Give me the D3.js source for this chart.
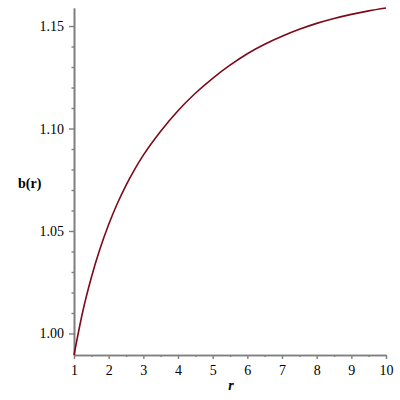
<!DOCTYPE html>
<html>
<head>
<meta charset="utf-8">
<script src="https://cdn.jsdelivr.net/npm/d3@7"></script>
<style>
  body { margin: 0; background: #fff; }
  svg { display: block; }
  .axis path, .axis line { stroke: #7f7f7f; }
</style>
</head>
<body>
<svg id="chart" width="400" height="400"></svg>
<script>
// values
var rValues = [1, 1.25, 1.5, 1.75, 2, 2.25, 2.5, 2.75, 3, 3.5, 4, 4.5, 5, 5.5, 6, 6.5, 7, 7.5, 8, 8.5, 9, 9.5, 10];
var bValues = [0.9895, 1.0105, 1.0273, 1.0413, 1.0532, 1.0634, 1.0723, 1.0801, 1.087,
               1.0987, 1.1087, 1.1172, 1.1245, 1.1309, 1.1365, 1.1411, 1.1450, 1.1484,
               1.1513, 1.1537, 1.1557, 1.1574, 1.1588];
var xMajor = [1, 2, 3, 4, 5, 6, 7, 8, 9, 10];
var xMinor = [1.5, 2.5, 3.5, 4.5, 5.5, 6.5, 7.5, 8.5, 9.5];
var yMajor = [1.00, 1.05, 1.10, 1.15];
var yMinor = [1.01, 1.02, 1.03, 1.04, 1.06, 1.07, 1.08, 1.09, 1.11, 1.12, 1.13, 1.14];

var serif = "'Liberation Serif', 'Times New Roman', serif";
var svg = d3.select("svg#chart");
var plotLeft = 74, plotRight = 386, plotTop = 8, plotBottom = 355;

var x = d3.scaleLinear().domain(d3.extent(rValues)).range([plotLeft, plotRight]);
var y = d3.scaleLinear().domain(d3.extent(bValues)).range([plotBottom, plotTop]);

// minor ticks first so the axis line sits on top
svg.append("g")
    .attr("class", "axis")
    .attr("transform", "translate(0," + plotBottom + ")")
    .call(d3.axisBottom(x).tickValues(xMinor).tickSize(2).tickSizeOuter(0).tickFormat(""));

svg.append("g")
    .attr("class", "axis")
    .attr("transform", "translate(" + plotLeft + ",0)")
    .call(d3.axisLeft(y).tickValues(yMinor).tickSize(2.5).tickSizeOuter(0).tickFormat(""));

svg.append("g")
    .attr("class", "axis")
    .attr("transform", "translate(0," + plotBottom + ")")
    .call(d3.axisBottom(x).tickValues(xMajor).tickSize(4).tickSizeOuter(0).tickPadding(6).tickFormat(d3.format("d")));

svg.append("g")
    .attr("class", "axis")
    .attr("transform", "translate(" + plotLeft + ",0)")
    .call(d3.axisLeft(y).tickValues(yMajor).tickSize(5).tickSizeOuter(0).tickPadding(5).tickFormat(d3.format(".2f")));

svg.selectAll(".axis")
    .attr("font-family", serif)
    .attr("font-size", 14);
svg.selectAll(".axis .tick text").attr("fill", "#000");
svg.selectAll(".axis path.domain").attr("stroke-width", 1.6);
svg.selectAll(".axis .tick line").attr("stroke-width", 1.4);

var line = d3.line()
    .x(function(d, i) { return x(rValues[i]); })
    .y(function(d) { return y(d); })
    .curve(d3.curveMonotoneX);

svg.append("path")
    .datum(bValues)
    .attr("fill", "none")
    .attr("stroke", "#7c0a1a")
    .attr("stroke-width", 1.6)
    .attr("d", line);

svg.append("text")
    .attr("x", 18)
    .attr("y", 188)
    .attr("font-family", serif)
    .attr("font-size", 14)
    .attr("font-weight", "bold")
    .text("b(r)");

svg.append("text")
    .attr("x", 231)
    .attr("y", 390)
    .attr("text-anchor", "middle")
    .attr("font-family", serif)
    .attr("font-size", 14)
    .attr("font-weight", "bold")
    .attr("font-style", "italic")
    .text("r");
</script>
</body>
</html>
